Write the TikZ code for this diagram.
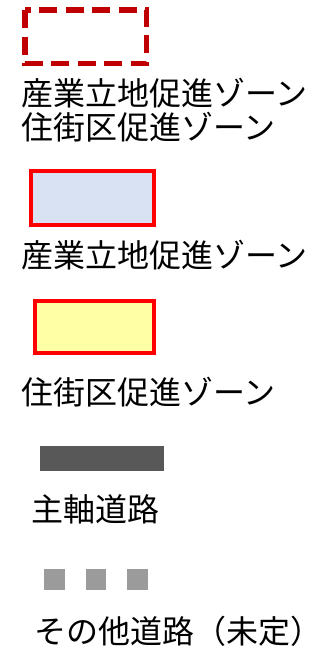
\documentclass[tikz,border=0pt]{standalone}
\usepackage{fontspec}
\setmainfont{Noto Sans CJK JP}
\definecolor{darkred}{RGB}{192,0,0}
\definecolor{zoneblue}{RGB}{217,226,242}
\definecolor{zoneyellow}{RGB}{255,255,165}
\definecolor{roadmain}{RGB}{88,88,88}
\definecolor{roadother}{RGB}{155,155,155}
\begin{document}
\begin{tikzpicture}[x=1pt,y=-1pt,
  lbl/.style={anchor=base west,inner sep=0pt,font=\fontsize{32}{34}\selectfont,text=black},
  zonebox/.style={draw=red,line width=4pt}]
\useasboundingbox (0,0) rectangle (327,653);
% dashed combined zone
\draw[darkred,line width=5.5pt,dash pattern=on 18pt off 8.5pt] (25,10) rectangle (146.5,63.5);
\node[lbl] (t1) at (21,105.5) {産業立地促進ゾーン};
\node[lbl] (t2) at (21,139.5) {住街区促進ゾーン};
% industrial zone
\draw[zonebox,fill=zoneblue] (31,171) rectangle (154,225);
\node[lbl] (t3) at (21,267) {産業立地促進ゾーン};
% residential zone
\draw[zonebox,fill=zoneyellow] (35,301) rectangle (154,353);
\node[lbl] (t4) at (21,404.5) {住街区促進ゾーン};
% main road
\fill[roadmain] (40,446) rectangle (164,471);
\node[lbl] (t5) at (31,521.5) {主軸道路};
% other roads
\fill[roadother] (44,569) rectangle (65,590);
\fill[roadother] (86,569) rectangle (106,590);
\fill[roadother] (127,569) rectangle (148,590);
\node[lbl] (t6) at (34,643.5) {その他道路（未定）};
\end{tikzpicture}
\end{document}
